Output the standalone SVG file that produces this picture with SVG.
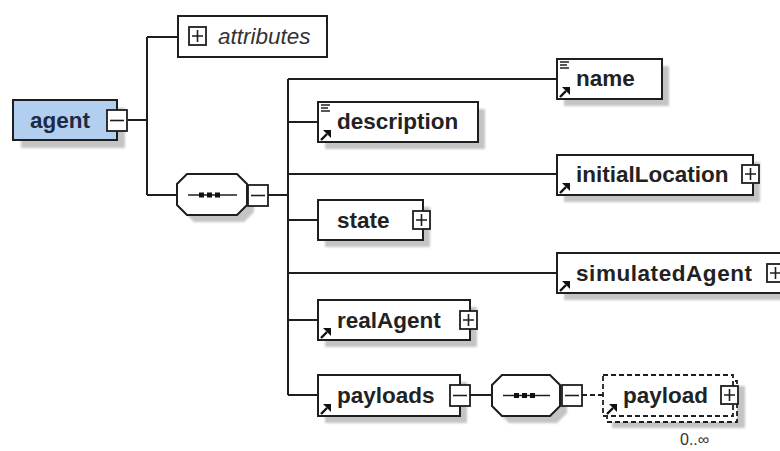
<svg xmlns="http://www.w3.org/2000/svg" width="780" height="451" viewBox="0 0 780 451">
<style>
.bx{fill:#fff;stroke:#1e1e1e;stroke-width:2}
.sh{fill:#c4c4c4;stroke:none}
.ln{fill:none;stroke:#1e1e1e;stroke-width:2}
.t{font-family:"Liberation Sans",Arial,sans-serif;font-size:22.5px;font-weight:bold;fill:#222}
.ti{font-family:"Liberation Sans",Arial,sans-serif;font-size:22.5px;font-style:italic;fill:#333}
.pm{fill:#fff;stroke:#1e1e1e;stroke-width:1.8}
.ds{fill:#fff;stroke:#1e1e1e;stroke-width:1.8;stroke-dasharray:5 3}
</style>
<defs>
<filter id="bl" x="-10%" y="-10%" width="120%" height="130%"><feGaussianBlur stdDeviation="1.2"/></filter>
<g id="arr"><path d="M1,11 L7,5" stroke="#111" stroke-width="2.4" fill="none"/><path d="M3,1 H11 V9 Z" fill="#111"/></g>
<g id="txt"><path d="M0,1 H9 M0,4 H7 M0,7 H9" stroke="#222" stroke-width="1.6" fill="none"/></g>
<g id="plus"><rect class="pm" x="0" y="0" width="17" height="18"/><path d="M3,9 H14 M8.5,3 V15" stroke="#1e1e1e" stroke-width="1.6"/></g>
<g id="minus"><rect class="pm" x="0" y="0" width="20" height="21"/><path d="M3,10.5 H17" stroke="#1e1e1e" stroke-width="1.6"/></g>
</defs>
<rect width="780" height="451" fill="#fff"/>

<g id="connectors" class="ln">
<path d="M128,120 H147 M147,37 V195 M147,37 H178 M147,195 H177"/>
<path d="M268,195 H288 M288,79 V395 M288,79 H557 M288,122 H318 M288,174 H557 M288,220 H318 M288,273 H557 M288,320 H318 M288,395 H318"/>
<path d="M469,395 H492"/>
<path d="M582,395 H603" stroke-dasharray="5 3"/>
</g>

<g id="agent">
<rect class="sh" x="21" y="108" width="104" height="40" filter="url(#bl)"/>
<rect x="13" y="100" width="104" height="40" fill="#b3cff0" stroke="#1e1e1e" stroke-width="2"/>
<text class="t" x="30" y="128" style="fill:#1c2a44">agent</text>
<use href="#minus" x="107" y="110"/>
</g>

<g id="attributes">
<rect class="bx" x="178" y="16" width="149" height="41"/>
<use href="#plus" x="189" y="27"/>
<text class="ti" x="218" y="44">attributes</text>
</g>

<g id="sequence">
<path class="sh" d="M194,181 H244 L254,191 V212 L244,222 H194 L184,212 V191 Z" filter="url(#bl)"/>
<path class="bx" d="M187,174 H237 L247,184 V205 L237,215 H187 L177,205 V184 Z"/>
<path d="M188,195 H237" stroke="#1e1e1e" stroke-width="1.6"/>
<rect x="199" y="192.5" width="5" height="5" fill="#111"/>
<rect x="207" y="192.5" width="5" height="5" fill="#111"/>
<rect x="215" y="192.5" width="5" height="5" fill="#111"/>
<use href="#minus" x="248" y="185"/>
</g>

<g id="name">
<rect class="sh" x="564" y="66" width="105" height="40" filter="url(#bl)"/>
<rect class="bx" x="557" y="59" width="105" height="40"/>
<use href="#txt" x="560" y="61"/>
<use href="#arr" x="559" y="86"/>
<text class="t" x="576" y="86">name</text>
</g>

<g id="description">
<rect class="sh" x="325" y="109" width="160" height="40" filter="url(#bl)"/>
<rect class="bx" x="318" y="102" width="160" height="40"/>
<use href="#txt" x="321" y="104"/>
<use href="#arr" x="320" y="129"/>
<text class="t" x="337" y="129">description</text>
</g>

<g id="initialLocation">
<rect class="sh" x="564" y="162" width="196" height="40" filter="url(#bl)"/>
<rect class="bx" x="557" y="155" width="196" height="40"/>
<use href="#arr" x="559" y="182"/>
<text class="t" x="576" y="182">initialLocation</text>
<use href="#plus" x="742" y="165"/>
</g>

<g id="state">
<rect class="sh" x="325" y="207" width="105" height="40" filter="url(#bl)"/>
<rect class="bx" x="318" y="200" width="105" height="40"/>
<text class="t" x="337" y="228">state</text>
<use href="#plus" x="413" y="211"/>
</g>

<g id="simulatedAgent">
<rect class="sh" x="564" y="260" width="230" height="40" filter="url(#bl)"/>
<rect class="bx" x="557" y="253" width="230" height="40"/>
<use href="#arr" x="559" y="280"/>
<text class="t" x="576" y="281" textLength="176">simulatedAgent</text>
<use href="#plus" x="767" y="264"/>
</g>

<g id="realAgent">
<rect class="sh" x="325" y="307" width="152" height="40" filter="url(#bl)"/>
<rect class="bx" x="318" y="300" width="152" height="40"/>
<use href="#arr" x="320" y="327"/>
<text class="t" x="337" y="328">realAgent</text>
<use href="#plus" x="460" y="311"/>
</g>

<g id="payloads">
<rect class="sh" x="325" y="382" width="142" height="41" filter="url(#bl)"/>
<rect class="bx" x="318" y="375" width="142" height="41"/>
<use href="#arr" x="320" y="403"/>
<text class="t" x="337" y="403">payloads</text>
<use href="#minus" x="450" y="385"/>
</g>

<g id="sequence2">
<path class="sh" d="M509,382 H557 L567,392 V413 L557,423 H509 L499,413 V392 Z" filter="url(#bl)"/>
<path class="bx" d="M502,375 H550 L560,385 V406 L550,416 H502 L492,406 V385 Z"/>
<path d="M503,395.5 H550" stroke="#1e1e1e" stroke-width="1.6"/>
<rect x="514" y="393" width="5" height="5" fill="#111"/>
<rect x="522" y="393" width="5" height="5" fill="#111"/>
<rect x="530" y="393" width="5" height="5" fill="#111"/>
<use href="#minus" x="562" y="385"/>
</g>

<g id="payload">
<rect class="sh" x="612" y="386" width="133" height="42" filter="url(#bl)"/>
<rect class="ds" x="607" y="381" width="130" height="41"/>
<rect class="ds" x="603" y="375" width="130" height="41"/>
<use href="#arr" x="606" y="403"/>
<text class="t" x="623" y="403">payload</text>
<use href="#plus" x="721" y="386"/>
<text x="680" y="445" style="font-family:'Liberation Sans',Arial,sans-serif;font-size:16px;fill:#333">0..∞</text>
</g>
</svg>
